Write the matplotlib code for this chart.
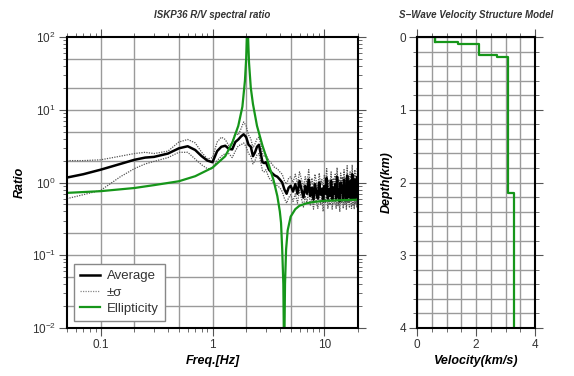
import numpy as np
import matplotlib
matplotlib.use('Agg')
import matplotlib.pyplot as plt
from matplotlib.ticker import LogLocator, MultipleLocator, NullFormatter, FixedLocator

plt.rcParams['font.family'] = ['Liberation Sans', 'DejaVu Sans']

# R/V spectral ratio: average and +/- sigma
freq_lo = [0.05, 0.07, 0.1, 0.15, 0.2, 0.25, 0.3, 0.4, 0.5, 0.6, 0.7, 0.8, 0.9, 1.0, 1.1,
           1.2, 1.3, 1.4, 1.5, 1.6, 1.7, 1.8, 1.9, 2.0, 2.1, 2.2, 2.3, 2.4, 2.5, 2.6,
           2.7, 2.8, 2.9, 3.0, 3.2, 3.4, 3.6, 3.8, 4.0, 4.2, 4.4, 4.6, 4.8, 5.0]
avg_lo = [1.17, 1.3, 1.5, 1.8, 2.05, 2.2, 2.25, 2.5, 2.95, 3.15, 2.8, 2.3, 2.0, 1.9, 2.7,
          3.1, 3.2, 2.9, 2.85, 3.6, 3.9, 4.3, 4.6, 4.2, 3.3, 3.1, 2.3, 2.6, 3.1, 3.3,
          2.5, 1.9, 1.85, 1.9, 1.5, 1.35, 1.25, 1.2, 1.1, 1.0, 0.8, 0.7, 0.85, 0.9]
upper_lo = [2.0, 2.0, 2.05, 2.3, 2.5, 2.6, 2.5, 2.7, 3.6, 3.9, 3.5, 2.6, 2.1, 2.2, 3.6,
            4.2, 3.9, 3.2, 3.6, 4.8, 4.5, 5.5, 6.8, 6.0, 4.5, 4.0, 3.0, 3.4, 4.0, 4.2,
            3.4, 2.5, 2.3, 2.4, 2.0, 1.8, 1.6, 1.55, 1.4, 1.3, 1.05, 0.95, 1.15, 1.2]
lower_lo = [0.6, 0.68, 0.78, 1.2, 1.55, 1.8, 1.95, 2.2, 2.6, 2.6, 2.1, 1.75, 1.55, 1.55, 2.0,
            2.3, 2.5, 2.5, 2.2, 2.7, 3.2, 3.3, 3.5, 3.1, 2.5, 2.3, 1.8, 2.0, 2.4, 2.5,
            1.9, 1.45, 1.4, 1.5, 1.15, 1.05, 0.95, 0.9, 0.85, 0.75, 0.6, 0.52, 0.62, 0.68]

freq_hi = np.arange(5.25, 20.01, 0.25)
avg_hi = [0.75, 0.95, 0.7, 1.05, 0.8, 0.62, 0.9, 0.7, 1.1, 0.65,
          0.85, 0.58, 0.95, 0.72, 0.6, 1.0, 0.68, 0.82, 0.55, 0.9,
          0.7, 1.15, 0.6, 0.8, 0.66, 1.05, 0.58, 0.85, 0.7, 0.95,
          0.6, 1.2, 0.65, 0.8, 0.55, 1.0, 0.72, 0.9, 0.6, 1.1,
          0.68, 0.85, 0.57, 1.25, 0.7, 0.9, 0.62, 1.05, 0.75, 0.6,
          1.3, 0.66, 0.95, 0.58, 1.1, 0.7, 0.88, 0.62, 1.2, 0.8]
upper_hi = [1.0, 1.3, 0.95, 1.4, 1.1, 0.85, 1.2, 0.95, 1.5, 0.9,
            1.15, 0.8, 1.3, 1.0, 0.82, 1.35, 0.92, 1.1, 0.75, 1.25,
            0.95, 1.55, 0.82, 1.1, 0.9, 1.4, 0.8, 1.15, 0.95, 1.3,
            0.82, 1.6, 0.88, 1.1, 0.75, 1.35, 0.98, 1.2, 0.82, 1.5,
            0.92, 1.15, 0.78, 1.7, 0.95, 1.2, 0.85, 1.4, 1.0, 0.82,
            1.75, 0.9, 1.3, 0.8, 1.5, 0.95, 1.2, 0.85, 1.6, 1.1]
lower_hi = [0.55, 0.7, 0.52, 0.78, 0.6, 0.46, 0.66, 0.52, 0.8, 0.48,
            0.63, 0.43, 0.7, 0.53, 0.44, 0.74, 0.5, 0.6, 0.4, 0.66,
            0.52, 0.85, 0.44, 0.59, 0.49, 0.78, 0.43, 0.63, 0.52, 0.7,
            0.44, 0.88, 0.48, 0.59, 0.4, 0.74, 0.53, 0.66, 0.44, 0.8,
            0.5, 0.63, 0.42, 0.92, 0.52, 0.66, 0.46, 0.78, 0.55, 0.44,
            0.95, 0.49, 0.7, 0.43, 0.8, 0.52, 0.65, 0.46, 0.88, 0.59]

# theoretical ellipticity of the model
ell_freq = [0.05, 0.1, 0.2, 0.3, 0.5, 0.7, 1.0, 1.3, 1.5, 1.7, 1.85, 1.95, 2.0, 2.03,
            2.05, 2.08, 2.12, 2.2, 2.3, 2.5, 2.8, 3.1, 3.5, 3.8, 4.0, 4.1, 4.2, 4.3,
            4.37, 4.45, 4.55, 4.7, 5.0, 5.5, 6.0, 7.0, 8.0, 10.0, 14.0, 20.0]
ell_val = [0.72, 0.76, 0.84, 0.92, 1.04, 1.22, 1.6, 2.3, 3.5, 6.0, 11, 25, 50, 100,
           200, 100, 45, 20, 12, 6, 3.2, 2.0, 1.1, 0.65, 0.4, 0.28, 0.12, 0.04,
           0.003, 0.04, 0.12, 0.22, 0.34, 0.43, 0.48, 0.52, 0.54, 0.56, 0.57, 0.58]

# S-wave velocity model: layer top depth (km) and Vs (km/s)
layer_top = [0.0, 0.065, 0.1, 0.25, 0.27, 2.15]
layer_vs = [0.6, 1.4, 2.1, 2.7, 3.1, 3.3]
model_bottom = 4.0

freq = np.concatenate([freq_lo, freq_hi])
avg = np.concatenate([avg_lo, avg_hi])
upper = np.concatenate([upper_lo, upper_hi])
lower = np.concatenate([lower_lo, lower_hi])

green = '#16961a'
gridc = '#9a9a9a'
lab = dict(fontsize=9, fontweight='bold', style='italic')

fig = plt.figure(figsize=(5.74, 3.76), dpi=100)
ax1 = fig.add_axes([67 / 574, 48 / 376, 291 / 574, 291 / 376])
ax2 = fig.add_axes([417 / 574, 48 / 376, 118 / 574, 291 / 376])

# ---- spectral ratio ----
ax1.set_xscale('log')
ax1.set_yscale('log')
ax1.plot(freq, upper, color='#555555', lw=0.9, ls=(0, (1, 1)))
ax1.plot(freq, lower, color='#555555', lw=0.9, ls=(0, (1, 1)))
ax1.plot(freq, avg, color='black', lw=1.8)
ax1.plot(ell_freq, ell_val, color=green, lw=1.6)
ax1.set_xlim(0.05, 20)
ax1.set_ylim(1e-2, 1e2)

ax1.xaxis.set_major_locator(FixedLocator([0.1, 1, 10]))
ax1.set_xticklabels(['0.1', '1', '10'])
ax1.xaxis.set_minor_locator(LogLocator(base=10, subs=np.arange(2, 10), numticks=20))
ax1.xaxis.set_minor_formatter(NullFormatter())
ax1.yaxis.set_major_locator(LogLocator(base=10, numticks=10))
ax1.yaxis.set_minor_locator(LogLocator(base=10, subs=np.arange(2, 10), numticks=20))
ax1.yaxis.set_minor_formatter(NullFormatter())

# grid at 1, 2, 5 multiples
for v in [0.1, 0.2, 0.5, 1, 2, 5, 10]:
    ax1.axvline(v, color=gridc, lw=1.0, zorder=0)
for e in [0.01, 0.1, 1, 10]:
    for m in [1, 2, 5]:
        ax1.axhline(e * m, color=gridc, lw=1.0, zorder=0)

h_avg, = ax1.plot([], [], color='black', lw=1.8)
h_sig, = ax1.plot([], [], color='#888888', lw=0.9, ls=(0, (1, 1)))
h_ell, = ax1.plot([], [], color=green, lw=1.6)
leg = ax1.legend([h_avg, h_sig, h_ell], ['Average', '\u00b1\u03c3', 'Ellipticity'],
                 loc='lower left', fontsize=9.5, handlelength=1.5, handletextpad=0.5,
                 borderaxespad=0.5, fancybox=False, framealpha=1, labelspacing=0.3,
                 borderpad=0.5)
leg.get_frame().set_edgecolor('#888888')
for t in leg.get_texts():
    t.set_color('#333333')

ax1.set_xlabel('Freq.[Hz]', labelpad=3, **lab)
ax1.set_ylabel('Ratio', labelpad=4, **lab)
ax1.set_title('ISKP36 R/V spectral ratio', fontsize=7, fontweight='bold', style='italic',
              pad=14, color='#333333')

# ---- velocity model ----
depth_edges = layer_top + [model_bottom]
vs_steps = layer_vs + [layer_vs[-1]]
ax2.step(vs_steps, depth_edges, where='pre', color=green, lw=1.6)
ax2.plot([layer_vs[0], layer_vs[0]], [0, layer_top[1]], color=green, lw=1.6)
ax2.set_xlim(0, 4)
ax2.set_ylim(4, 0)
ax2.xaxis.set_major_locator(MultipleLocator(2))
ax2.xaxis.set_minor_locator(MultipleLocator(0.5))
ax2.yaxis.set_major_locator(MultipleLocator(1))
ax2.yaxis.set_minor_locator(MultipleLocator(0.2))
ax2.grid(which='both', color=gridc, lw=1.0, zorder=0)
ax2.set_xlabel('Velocity(km/s)', labelpad=3, **lab)
ax2.set_ylabel('Depth(km)', labelpad=5, **lab)
ax2.set_title('S\u2212Wave Velocity Structure Model', fontsize=7, fontweight='bold',
              style='italic', pad=14, color='#333333')

for ax in (ax1, ax2):
    ax.set_axisbelow(True)
    for s in ax.spines.values():
        s.set_linewidth(1.5)
    ax.tick_params(which='both', direction='out', top=True, right=True, labelsize=8.5,
                   colors='#555555', labelcolor='#333333', pad=2)
    ax.tick_params(which='major', length=6, width=0.8)
    ax.tick_params(which='minor', length=3, width=0.6)

fig.savefig('out.png', dpi=100)
